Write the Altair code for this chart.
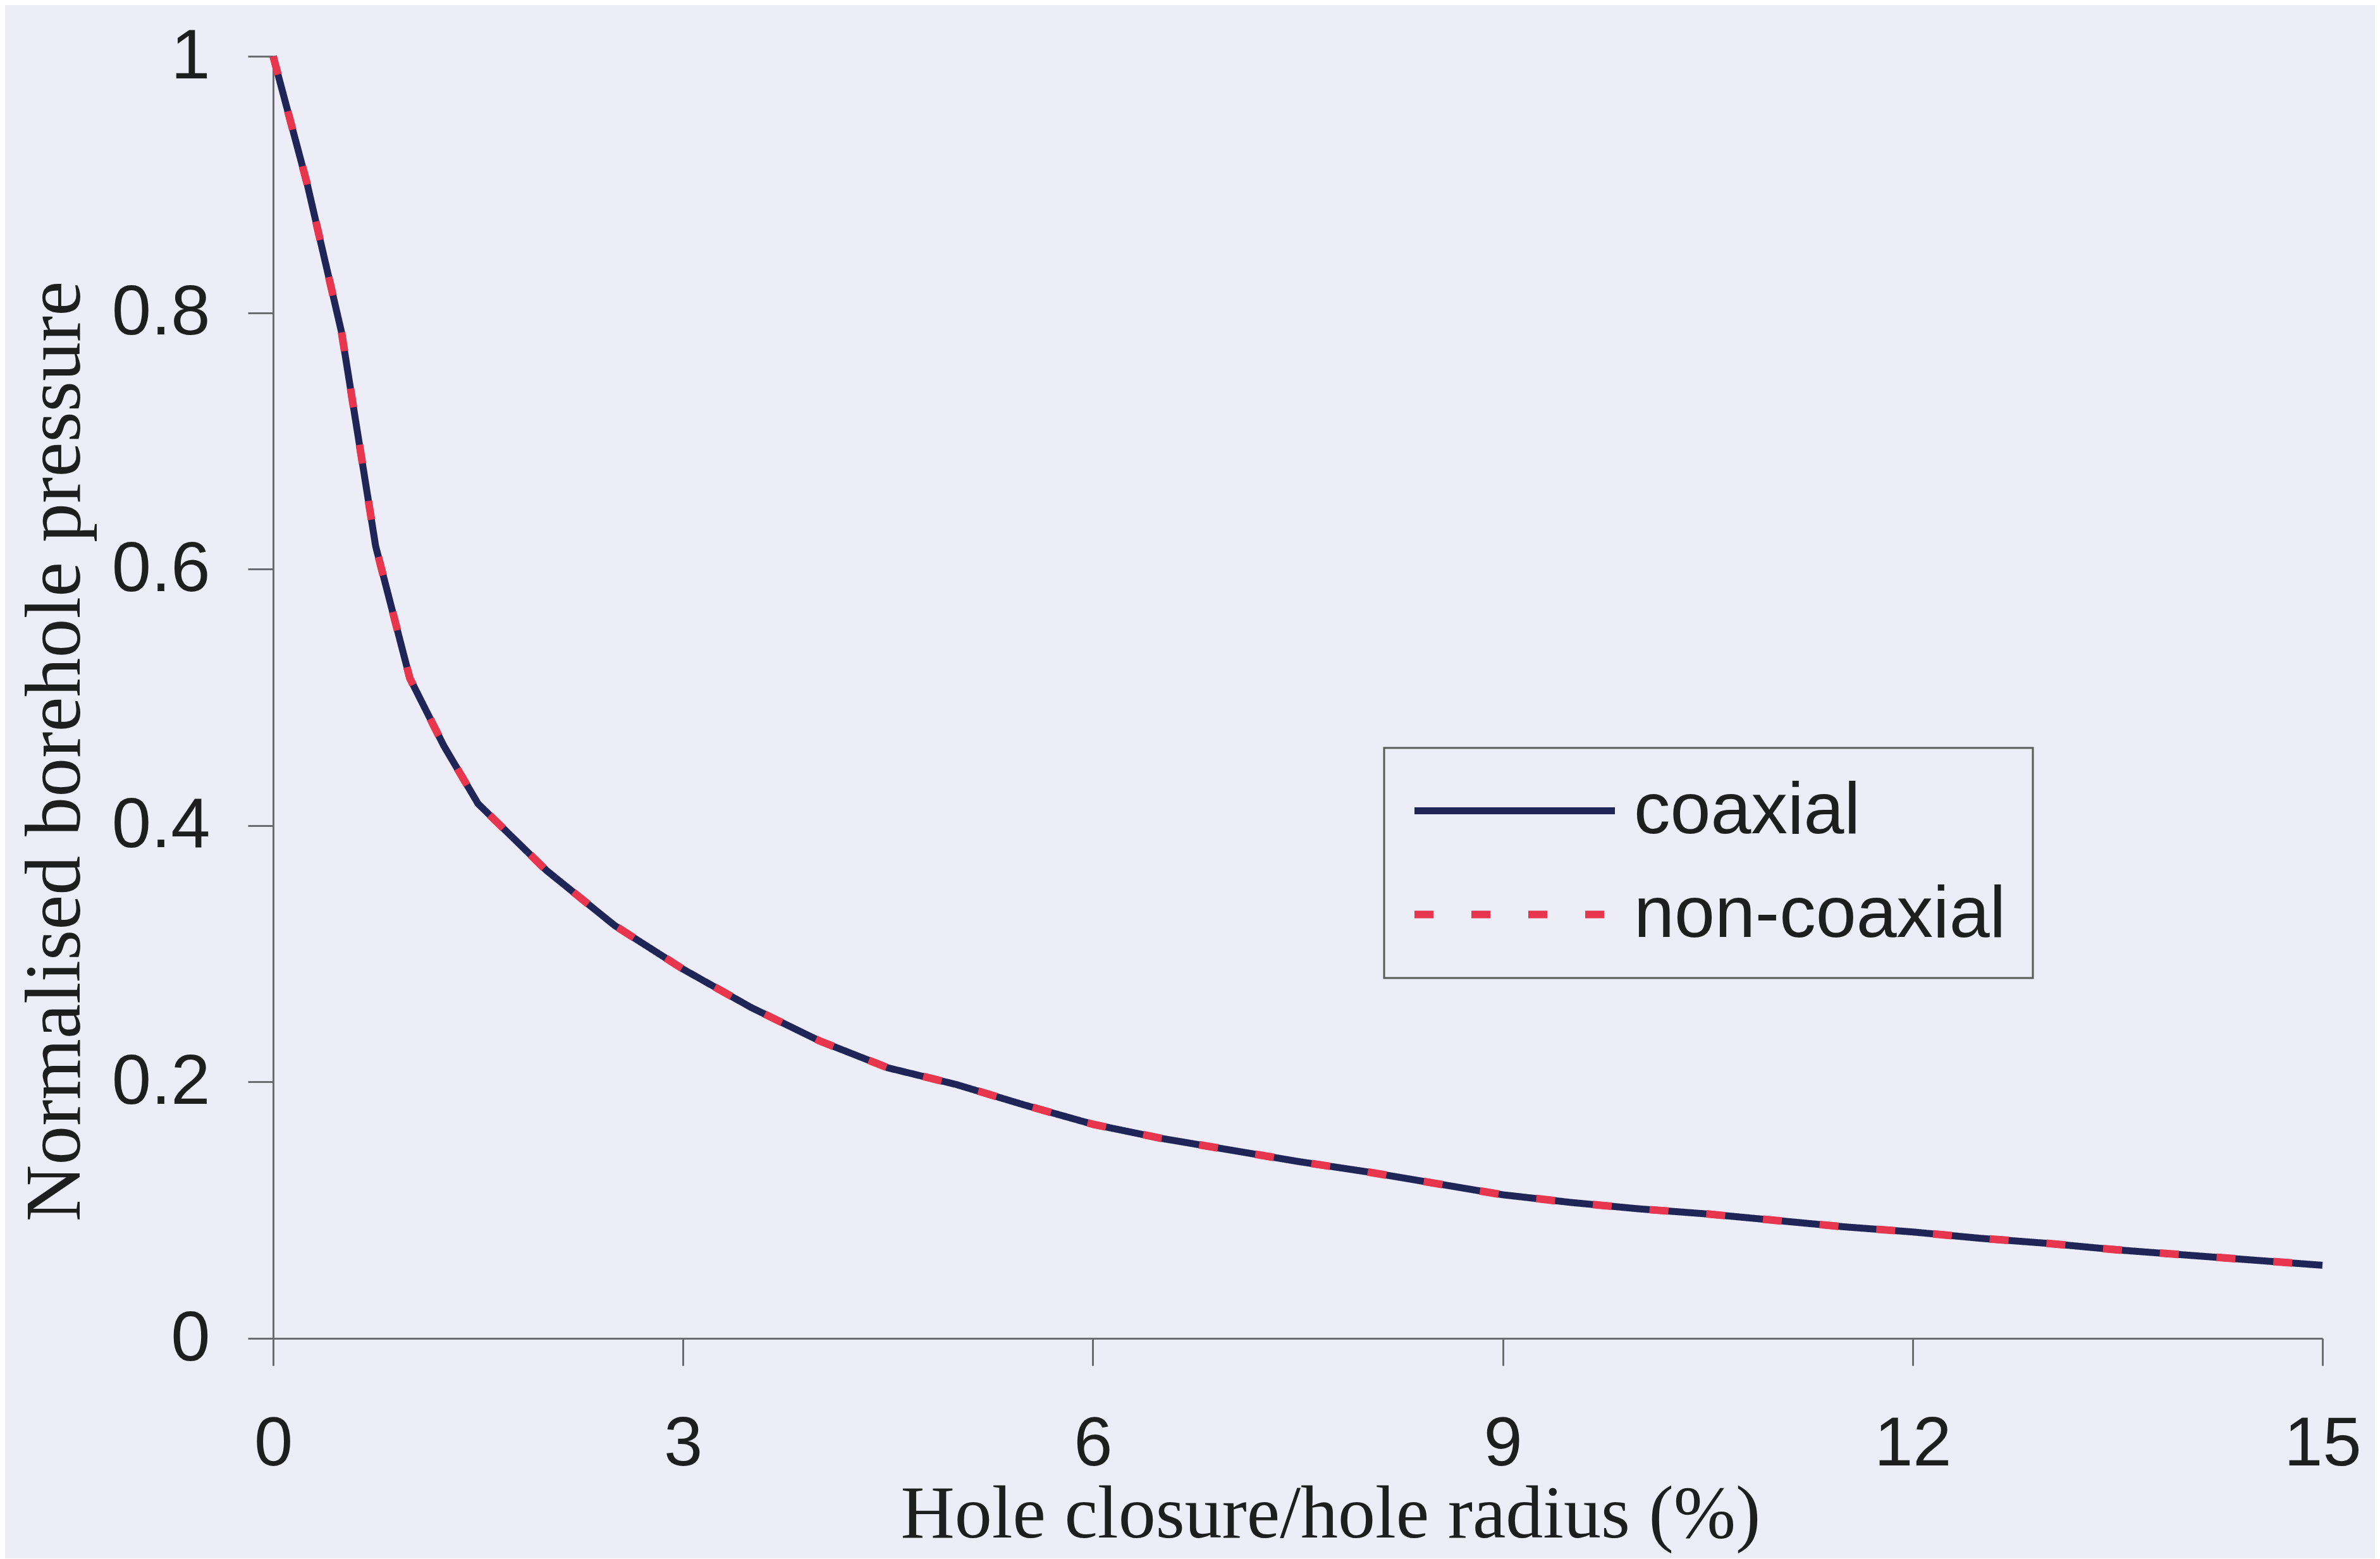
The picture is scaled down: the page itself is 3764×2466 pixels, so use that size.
import altair as alt
import pandas as pd

# ---- data ----
closure = [0.0, 0.25, 0.5, 0.75, 1.0, 1.25, 1.5, 2.0, 2.5, 3.0, 3.5, 4.0, 4.5,
           5.0, 5.5, 6.0, 6.5, 7.0, 7.5, 8.0, 8.5, 9.0, 9.5, 10.0, 10.5, 11.0,
           11.5, 12.0, 12.5, 13.0, 13.5, 14.0, 14.5, 15.0]
coaxial = [1.0, 0.90, 0.785, 0.618, 0.515, 0.462, 0.417, 0.365, 0.322, 0.288,
           0.258, 0.232, 0.211, 0.198, 0.182, 0.167, 0.156, 0.147, 0.138,
           0.130, 0.121, 0.112, 0.106, 0.101, 0.097, 0.092, 0.087, 0.083,
           0.078, 0.074, 0.069, 0.065, 0.061, 0.057]
non_coaxial = [1.0, 0.90, 0.785, 0.618, 0.515, 0.462, 0.417, 0.365, 0.322, 0.288,
               0.258, 0.232, 0.211, 0.198, 0.182, 0.167, 0.156, 0.147, 0.138,
               0.130, 0.121, 0.112, 0.106, 0.101, 0.097, 0.092, 0.087, 0.083,
               0.078, 0.074, 0.069, 0.065, 0.061, 0.057]
series_names = ["coaxial", "non-coaxial"]
x_ticks = [0, 3, 6, 9, 12, 15]
y_ticks = [0, 0.2, 0.4, 0.6, 0.8, 1]

rows = []
for name, ys in zip(series_names, [coaxial, non_coaxial]):
    for xv, yv in zip(closure, ys):
        rows.append({"closure": xv, "pressure": yv, "series": name})
df = pd.DataFrame(rows)

NAVY = "#1f2657"
RED = "#e8364e"
AXIS_GREY = "#6b6b72"
TEXT = "#1e1e1e"
BG = "#ededf7"

legend = alt.Legend(
    title=None,
    orient="none",
    legendX=1757,
    legendY=1094,
    symbolType="stroke",
    symbolSize=100489,
    symbolStrokeWidth=10,
    clipHeight=115,
    rowPadding=48,
    padding=42,
    labelOffset=24,
    labelFont="Liberation Sans",
    labelFontSize=115,
    labelColor=TEXT,
    labelLimit=1000,
    strokeColor="#5a5a5a",
    fillColor=BG,
)

chart = alt.Chart(df).mark_line(strokeCap="butt", strokeJoin="round").encode(
    x=alt.X(
        "closure:Q",
        scale=alt.Scale(domain=[0, 15], nice=False, zero=False),
        axis=alt.Axis(
            values=x_ticks, format="d", grid=False,
            title="Hole closure/hole radius (%)",
            titleFont="Liberation Serif", titleFontSize=118, titleFontWeight="normal",
            titleColor=TEXT, titleX=1672, titleY=314, titleBaseline="alphabetic",
            titleAlign="center", titleAnchor="middle",
            labelFont="Liberation Sans", labelFontSize=110, labelColor=TEXT,
            labelPadding=70, tickSize=43, tickWidth=3, tickColor=AXIS_GREY,
            domainColor=AXIS_GREY, domainWidth=3, labelFlush=False,
        ),
    ),
    y=alt.Y(
        "pressure:Q",
        scale=alt.Scale(domain=[0, 1], nice=False),
        axis=alt.Axis(
            values=y_ticks, format="~g", grid=False,
            title="Normalised borehole pressure",
            titleFont="Liberation Serif", titleFontSize=124, titleFontWeight="normal",
            titleColor=TEXT, titleX=-344, titleY=1099, titleAngle=270,
            titleBaseline="middle", titleAlign="center",
            labelFont="Liberation Sans", labelFontSize=112, labelColor=TEXT,
            labelPadding=60, tickSize=40, tickWidth=3, tickColor=AXIS_GREY,
            domainColor=AXIS_GREY, domainWidth=3, labelFlush=False,
        ),
    ),
    color=alt.Color("series:N", scale=alt.Scale(domain=series_names, range=[NAVY, RED]), legend=legend),
    strokeDash=alt.StrokeDash("series:N", scale=alt.Scale(domain=series_names, range=[[1, 0], [30, 60]]), legend=legend),
    strokeWidth=alt.StrokeWidth("series:N", scale=alt.Scale(domain=series_names, range=[11, 12]), legend=None),
).properties(
    width=3241,
    height=2028,
    autosize=alt.AutoSizeParams(type="none"),
    padding={"left": 424, "top": 81, "right": 83, "bottom": 348},
    background=BG,
).configure_view(stroke=None).configure_legend(strokeWidth=3)

chart.save("out.html", embed_options={"renderer": "svg", "actions": False})
